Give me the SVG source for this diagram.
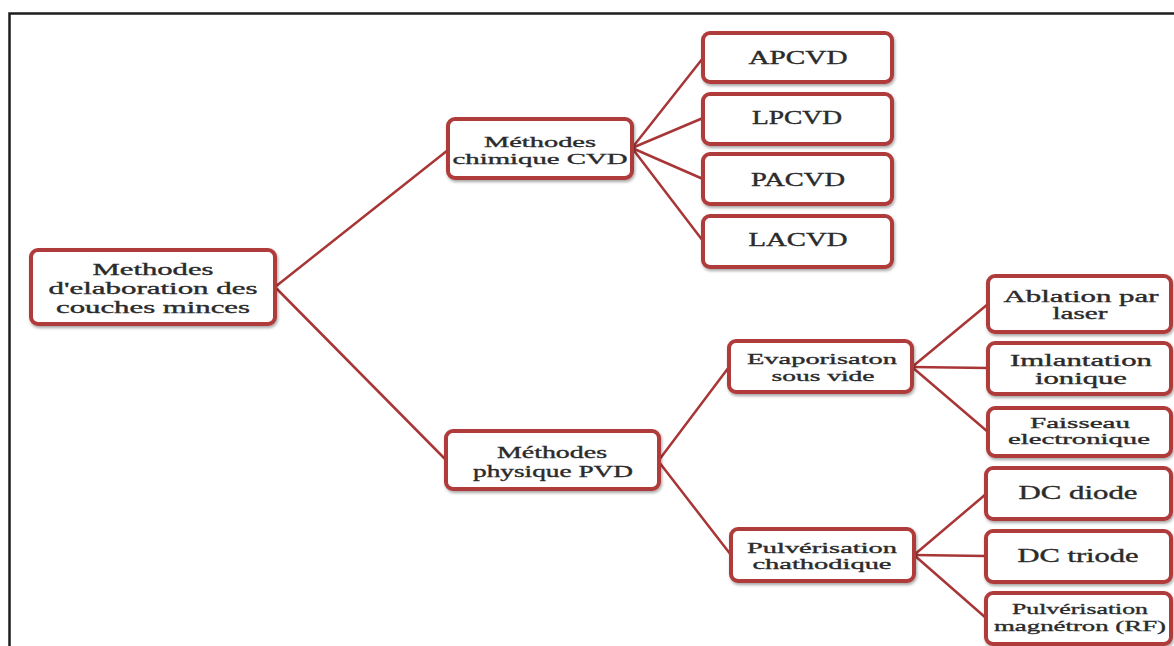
<svg xmlns="http://www.w3.org/2000/svg" width="1174" height="646" viewBox="0 0 1174 646">
<defs>
<filter id="sh" x="-10%" y="-10%" width="120%" height="130%">
<feDropShadow dx="1" dy="2" stdDeviation="1.5" flood-color="#000" flood-opacity="0.35"/>
</filter>
<style>
.box{fill:#fff;stroke:#b03b3b;stroke-width:4;filter:url(#sh)}
.t{font-family:"Liberation Serif","Times New Roman",serif;font-size:18px;fill:#2b2b2b;stroke:#2b2b2b;stroke-width:0.35;text-anchor:middle}
.m{font-size:16.5px}
.s{font-size:15.5px}
.c{fill:none;stroke:#a83636;stroke-width:2.5;stroke-linecap:round}
</style>
</defs>
<rect width="1174" height="646" fill="#fff"/>
<path d="M9.5,646 V13.5 H1174" fill="none" stroke="#1e1e1e" stroke-width="2.5"/>
<g id="connectors">
<line class="c" x1="275" y1="287" x2="448" y2="150"/>
<line class="c" x1="275" y1="287" x2="446" y2="460"/>
<line class="c" x1="632" y1="148" x2="703" y2="58"/>
<line class="c" x1="632" y1="148" x2="703" y2="118"/>
<line class="c" x1="632" y1="148" x2="703" y2="179"/>
<line class="c" x1="632" y1="148" x2="703" y2="241"/>
<line class="c" x1="659" y1="460" x2="729" y2="367"/>
<line class="c" x1="659" y1="462" x2="731" y2="555"/>
<line class="c" x1="912" y1="367" x2="988" y2="304"/>
<line class="c" x1="912" y1="367" x2="988" y2="368"/>
<line class="c" x1="912" y1="367" x2="988" y2="432"/>
<line class="c" x1="914" y1="555" x2="986" y2="494"/>
<line class="c" x1="914" y1="555" x2="986" y2="556"/>
<line class="c" x1="914" y1="555" x2="986" y2="618"/>
</g>
<g id="root">
<rect class="box" x="31" y="250" width="244" height="74" rx="7"/>
<text class="t m" x="153" y="275" textLength="121" lengthAdjust="spacingAndGlyphs">Methodes</text>
<text class="t m" x="153" y="294" textLength="209" lengthAdjust="spacingAndGlyphs">d'elaboration des</text>
<text class="t m" x="153" y="313" textLength="194" lengthAdjust="spacingAndGlyphs">couches minces</text>
</g>
<g id="cvd">
<rect class="box" x="448" y="119" width="184" height="59" rx="7"/>
<text class="t s" x="540" y="147" textLength="112" lengthAdjust="spacingAndGlyphs">Méthodes</text>
<text class="t s" x="540" y="164" textLength="175" lengthAdjust="spacingAndGlyphs">chimique CVD</text>
</g>
<g id="apcvd">
<rect class="box" x="703" y="33" width="189" height="49" rx="7"/>
<text class="t" x="798" y="64" textLength="99" lengthAdjust="spacingAndGlyphs">APCVD</text>
</g>
<g id="lpcvd">
<rect class="box" x="703" y="94" width="189" height="50" rx="7"/>
<text class="t" x="797" y="124" textLength="90" lengthAdjust="spacingAndGlyphs">LPCVD</text>
</g>
<g id="pacvd">
<rect class="box" x="703" y="154" width="189" height="50" rx="7"/>
<text class="t" x="798" y="186" textLength="94" lengthAdjust="spacingAndGlyphs">PACVD</text>
</g>
<g id="lacvd">
<rect class="box" x="703" y="216" width="189" height="51" rx="7"/>
<text class="t" x="798" y="246" textLength="99" lengthAdjust="spacingAndGlyphs">LACVD</text>
</g>
<g id="pvd">
<rect class="box" x="446" y="431" width="213" height="58" rx="7"/>
<text class="t m" x="552" y="458" textLength="110" lengthAdjust="spacingAndGlyphs">Méthodes</text>
<text class="t m" x="553" y="477" textLength="160" lengthAdjust="spacingAndGlyphs">physique PVD</text>
</g>
<g id="evap">
<rect class="box" x="729" y="341" width="183" height="51" rx="7"/>
<text class="t s" x="822" y="364" textLength="150" lengthAdjust="spacingAndGlyphs">Evaporisaton</text>
<text class="t s" x="823" y="381" textLength="103" lengthAdjust="spacingAndGlyphs">sous vide</text>
</g>
<g id="ablation">
<rect class="box" x="988" y="276" width="183" height="56" rx="7"/>
<text class="t m" x="1081" y="302" textLength="155" lengthAdjust="spacingAndGlyphs">Ablation par</text>
<text class="t m" x="1080" y="319" textLength="55" lengthAdjust="spacingAndGlyphs">laser</text>
</g>
<g id="implantation">
<rect class="box" x="988" y="343" width="183" height="51" rx="7"/>
<text class="t m" x="1081" y="366" textLength="142" lengthAdjust="spacingAndGlyphs">Imlantation</text>
<text class="t m" x="1081" y="384" textLength="92" lengthAdjust="spacingAndGlyphs">ionique</text>
</g>
<g id="faisseau">
<rect class="box" x="988" y="408" width="183" height="48" rx="7"/>
<text class="t s" x="1080" y="428" textLength="100" lengthAdjust="spacingAndGlyphs">Faisseau</text>
<text class="t s" x="1079" y="444" textLength="142" lengthAdjust="spacingAndGlyphs">electronique</text>
</g>
<g id="pulv">
<rect class="box" x="731" y="529" width="183" height="52" rx="7"/>
<text class="t s" x="822" y="553" textLength="150" lengthAdjust="spacingAndGlyphs">Pulvérisation</text>
<text class="t s" x="822" y="569" textLength="139" lengthAdjust="spacingAndGlyphs">chathodique</text>
</g>
<g id="dcdiode">
<rect class="box" x="986" y="468" width="185" height="51" rx="7"/>
<text class="t" x="1078" y="499" textLength="119" lengthAdjust="spacingAndGlyphs">DC diode</text>
</g>
<g id="dctriode">
<rect class="box" x="986" y="531" width="185" height="51" rx="7"/>
<text class="t" x="1078" y="562" textLength="121" lengthAdjust="spacingAndGlyphs">DC triode</text>
</g>
<g id="magnetron">
<rect class="box" x="986" y="593" width="185" height="51" rx="7"/>
<text class="t s" x="1080" y="614" textLength="136" lengthAdjust="spacingAndGlyphs">Pulvérisation</text>
<text class="t s" x="1080" y="631" textLength="172" lengthAdjust="spacingAndGlyphs">magnétron (RF)</text>
</g>
</svg>
